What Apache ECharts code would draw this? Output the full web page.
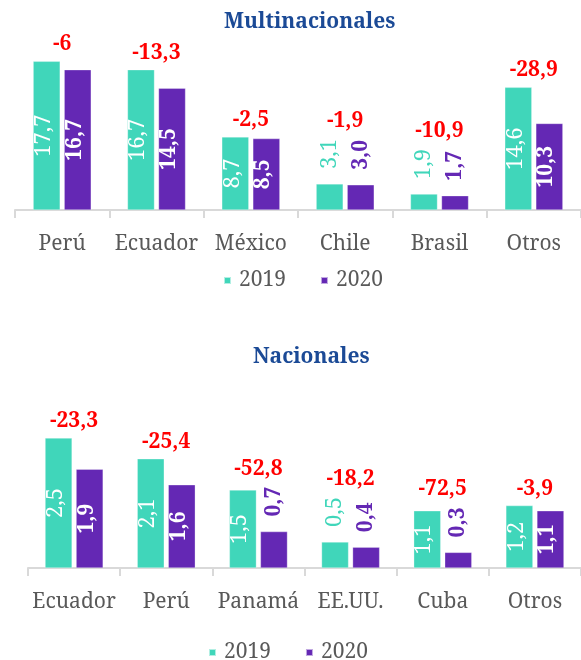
<!DOCTYPE html>
<html>
<head>
<meta charset="utf-8">
<script src="https://cdn.jsdelivr.net/npm/echarts@6/dist/echarts.min.js"></script>
<style>
  html, body { margin: 0; padding: 0; background: #fff; }
  #chart { width: 581px; height: 660px; }
</style>
</head>
<body>
<div id="chart"></div>
<script>
// datos
const multiCategorias = ['Perú', 'Ecuador', 'México', 'Chile', 'Brasil', 'Otros']
const multi2019 = [17.7, 16.7, 8.7, 3.1, 1.9, 14.6]
const multi2020 = [16.7, 14.5, 8.5, 3.0, 1.7, 10.3]
const multiVar = ['-6', '-13,3', '-2,5', '-1,9', '-10,9', '-28,9']

const nacCategorias = ['Ecuador', 'Perú', 'Panamá', 'EE.UU.', 'Cuba', 'Otros']
const nac2019 = [2.5, 2.1, 1.5, 0.5, 1.1, 1.2]
const nac2020 = [1.9, 1.6, 0.7, 0.4, 0.3, 1.1]
const nacVar = ['-23,3', '-25,4', '-52,8', '-18,2', '-72,5', '-3,9']

const years = ['2019', '2020']

const TEAL = '#40D6BA'
const PURPLE = '#6428B4'
const FONT = 'Noto Serif'

// grids: alto en px y máximo del eje, para decidir si la etiqueta cabe dentro
const grids = [
  { left: 15, width: 567, top: 42, height: 168, max: 20 },
  { left: 28, width: 557, top: 412, height: 156, max: 3 }
]
const MIN_INSIDE = 50   // px de barra necesarios para etiqueta interior
const OUT_LEN = 46      // distancia + largo de la etiqueta exterior

const fits = (v, g) => v / g.max * g.height > MIN_INSIDE
const fmt = v => v.toFixed(1).replace('.', ',')

const barData = (values, g, color) => values.map(v => {
  const inside = fits(v, g)
  return {
    value: v,
    label: inside ? {
      position: 'inside', rotate: 90, color: '#fff', offset: [0, -3]
    } : {
      position: 'top', rotate: 90, align: 'left', verticalAlign: 'middle',
      distance: 15, color: color
    }
  }
})

const barSeries = (name, values, gi, color, bold) => ({
  name: name,
  type: 'bar',
  xAxisIndex: gi,
  yAxisIndex: gi,
  barWidth: 27,
  barGap: '15%',
  itemStyle: { color: color, borderColor: 'rgba(255,255,255,0.6)', borderWidth: 0.5 },
  label: {
    show: true,
    fontFamily: FONT,
    fontSize: bold ? 21 : 22,
    fontWeight: bold ? 'bold' : 'normal',
    formatter: p => fmt(p.value)
  },
  data: barData(values, grids[gi], color),
  z: 2
})

// variación en rojo sobre cada par de barras
const varSeries = (a, b, texts, gi) => ({
  name: 'var',
  type: 'custom',
  xAxisIndex: gi,
  yAxisIndex: gi,
  data: a.map((v, i) => [i, v, b[i]]),
  renderItem: (params, api) => {
    const g = grids[gi]
    const i = api.value(0)
    let markTop = Infinity
    let x = 0
    ;[api.value(1), api.value(2)].forEach(v => {
      const pt = api.coord([i, v])
      x = pt[0]
      const top = fits(v, g) ? pt[1] : pt[1] - OUT_LEN
      markTop = Math.min(markTop, top)
    })
    return {
      type: 'text',
      x: x,
      y: markTop - 17,
      style: {
        text: texts[i],
        fill: '#FF0000',
        font: 'bold 21px "' + FONT + '"',
        align: 'center',
        verticalAlign: 'middle'
      }
    }
  },
  z: 3
})

const xAxisFor = (cats, gi) => ({
  type: 'category',
  gridIndex: gi,
  data: cats,
  axisLine: { lineStyle: { color: '#D9D9D9', width: 2 } },
  axisTick: { show: true, length: 8, lineStyle: { color: '#D9D9D9', width: 2 } },
  axisLabel: { interval: 0, color: '#595959', fontFamily: FONT, fontSize: 21, margin: 24 }
})

const yAxisFor = (gi) => ({
  type: 'value',
  gridIndex: gi,
  min: 0,
  max: grids[gi].max,
  show: false,
  splitLine: { show: false }
})

const legendFor = (left, top) => ({
  data: years,
  left: left,
  top: top,
  icon: 'rect',
  itemWidth: 7,
  itemHeight: 7,
  itemGap: 34,
  selectedMode: false,
  textStyle: { color: '#595959', fontFamily: FONT, fontSize: 21, padding: [0, 0, 0, 3] }
})

const chart = echarts.init(document.getElementById('chart'))

chart.setOption({
  backgroundColor: '#fff',
  animation: false,
  textStyle: { fontFamily: FONT },
  title: [
    {
      text: 'Multinacionales', left: 224, top: 12, padding: 0,
      textStyle: { color: '#1B4A96', fontFamily: FONT, fontSize: 21, fontWeight: 'bold' }
    },
    {
      text: 'Nacionales', left: 253, top: 347, padding: 0,
      textStyle: { color: '#1B4A96', fontFamily: FONT, fontSize: 21, fontWeight: 'bold' }
    }
  ],
  legend: [legendFor(218, 265), legendFor(203, 637)],
  grid: grids.map(g => ({ left: g.left, width: g.width, top: g.top, height: g.height })),
  xAxis: [xAxisFor(multiCategorias, 0), xAxisFor(nacCategorias, 1)],
  yAxis: [yAxisFor(0), yAxisFor(1)],
  series: [
    barSeries(years[0], multi2019, 0, TEAL, false),
    barSeries(years[1], multi2020, 0, PURPLE, true),
    varSeries(multi2019, multi2020, multiVar, 0),
    barSeries(years[0], nac2019, 1, TEAL, false),
    barSeries(years[1], nac2020, 1, PURPLE, true),
    varSeries(nac2019, nac2020, nacVar, 1)
  ]
})
</script>
</body>
</html>
